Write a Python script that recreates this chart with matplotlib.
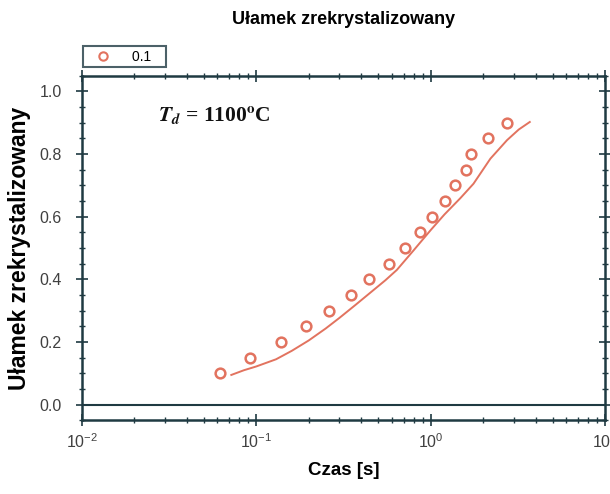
import numpy as np
import matplotlib
matplotlib.use("Agg")
import matplotlib.pyplot as plt
from matplotlib.lines import Line2D
from matplotlib.ticker import LogLocator, MultipleLocator, NullFormatter

plt.rcParams['font.family'] = ['Liberation Sans', 'DejaVu Sans']
plt.rcParams['mathtext.fontset'] = 'stix'

# Measured recrystallised fraction (open circles)
czas_pomiar = [0.062, 0.092, 0.138, 0.192, 0.263, 0.348, 0.446, 0.575, 0.711,
               0.870, 1.02, 1.21, 1.38, 1.59, 1.70, 2.14, 2.75]
ulamek_pomiar = [0.10, 0.15, 0.20, 0.25, 0.30, 0.35, 0.40, 0.45, 0.50,
                 0.55, 0.60, 0.65, 0.70, 0.75, 0.80, 0.85, 0.90]

# Model curve
czas_model = [0.072, 0.085, 0.10, 0.13, 0.16, 0.20, 0.25, 0.30, 0.37, 0.45, 0.55,
              0.64, 0.80, 1.0, 1.2, 1.48, 1.76, 2.2, 2.74, 3.2, 3.7]
ulamek_model = [0.095, 0.110, 0.122, 0.145, 0.172, 0.205, 0.243, 0.277, 0.318, 0.357,
                0.397, 0.430, 0.493, 0.557, 0.607, 0.659, 0.705, 0.785, 0.844,
                0.878, 0.902]

kolor = '#e2735f'
ciemny = '#1f3a42'

fig = plt.figure(figsize=(6.10, 4.94), dpi=100)
ax = fig.add_axes([0.134, 0.149, 0.858, 0.698])

ax.plot(czas_model, ulamek_model, '-', color=kolor, linewidth=1.4)
ax.plot(czas_pomiar, ulamek_pomiar, 'o', markersize=7, markerfacecolor='none',
        markeredgecolor=kolor, markeredgewidth=1.8)
ax.axhline(0.0, color=ciemny, linewidth=1.5)

ax.set_xscale('log')
ax.set_xlim(1e-2, 1e1)
ax.set_ylim(-0.05, 1.05)

ax.xaxis.set_major_locator(LogLocator(base=10, numticks=10))
ax.xaxis.set_minor_locator(LogLocator(base=10, subs=np.arange(2, 10), numticks=10))
ax.xaxis.set_minor_formatter(NullFormatter())
ax.yaxis.set_major_locator(MultipleLocator(0.2))
ax.yaxis.set_minor_locator(MultipleLocator(0.05))
ax.yaxis.set_major_formatter(plt.FormatStrFormatter('%.1f'))

ax.tick_params(which='both', direction='inout', top=True, right=True,
               color=ciemny, labelcolor='#404040', labelsize=11.5)
ax.tick_params(which='major', length=9, width=1.2)
ax.tick_params(which='minor', length=5, width=1.0)
ax.tick_params(axis='y', which='major', pad=10)
ax.tick_params(axis='x', which='major', pad=4)
for s in ax.spines.values():
    s.set_color(ciemny)
    s.set_linewidth(1.8)

# Titles and labels
ax.set_title('Ułamek zrekrystalizowany', fontsize=13, fontweight='bold', pad=37)
ax.set_xlabel('Czas [s]', fontsize=13.5, fontweight='bold', labelpad=8)
ax.set_ylabel('Ułamek zrekrystalizowany', fontsize=16.5, fontweight='bold', labelpad=6)

ax.text(0.145, 0.885, r'$\mathbfit{T}_{\mathbfit{d}}$ = 1100$^{\mathbf{o}}$C',
        transform=ax.transAxes, fontsize=15.5, fontweight='bold',
        family='Liberation Serif', color='#111111', va='center')

# Legend above the axes
uchwyt = Line2D([], [], linestyle='none', marker='o', markersize=6,
                markerfacecolor='none', markeredgecolor=kolor, markeredgewidth=1.5)
leg = fig.legend(handles=[uchwyt], labels=['0.1   '], loc='lower left',
                 bbox_to_anchor=(0.136, 0.864), frameon=True, fancybox=False,
                 fontsize=10, handlelength=2.4, handletextpad=0.9,
                 borderpad=0.25, borderaxespad=0)
leg.get_frame().set_edgecolor(ciemny)
leg.get_frame().set_linewidth(1.5)

fig.savefig('out.png', dpi=100)
